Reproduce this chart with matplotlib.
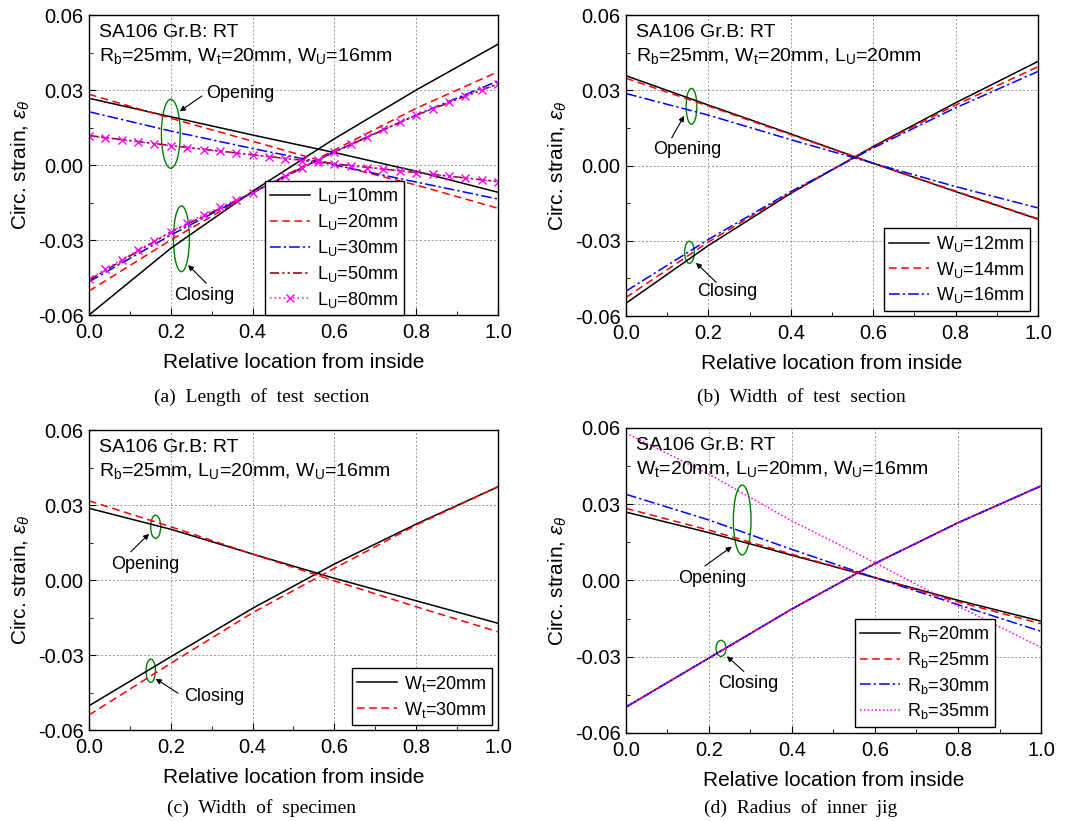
import matplotlib
matplotlib.use('Agg')
import matplotlib.pyplot as plt
from matplotlib.patches import Ellipse
from matplotlib.ticker import MultipleLocator, FormatStrFormatter

plt.rcParams['font.family'] = ['Liberation Sans', 'DejaVu Sans']
plt.rcParams['mathtext.fontset'] = 'custom'
plt.rcParams['mathtext.rm'] = 'Liberation Sans'
plt.rcParams['mathtext.it'] = 'Liberation Sans:italic'
plt.rcParams['axes.unicode_minus'] = False

# relative location through the wall
x_pts = [0.0, 0.2, 0.4, 0.6, 0.8, 1.0]
x_fine = [0.00, 0.04, 0.08, 0.12, 0.16, 0.20, 0.24, 0.28, 0.32, 0.36, 0.40, 0.44, 0.48,
          0.52, 0.56, 0.60, 0.64, 0.68, 0.72, 0.76, 0.80, 0.84, 0.88, 0.92, 0.96, 1.00]

# (a) length of test section
lu_labels = ['10', '20', '30', '50', '80']
lu_open = [
    [0.0267, 0.0193, 0.0120, 0.0050, -0.0025, -0.0109],
    [0.0283, 0.0187, 0.0095, 0.0002, -0.0080, -0.0173],
    [0.0213, 0.0136, 0.0066, 0.0000, -0.0068, -0.0136],
    [0.0118, 0.0078, 0.0041, 0.0005, -0.0030, -0.0066],
]
lu_close = [
    [-0.0600, -0.0333, -0.0105, 0.0105, 0.0300, 0.0483],
    [-0.0504, -0.0300, -0.0110, 0.0060, 0.0227, 0.0373],
    [-0.0467, -0.0280, -0.0110, 0.0053, 0.0200, 0.0336],
    [-0.0460, -0.0268, -0.0111, 0.0052, 0.0199, 0.0325],
]
lu80_open = [0.0116, 0.0108, 0.0100, 0.0093, 0.0085, 0.0077, 0.0070, 0.0062, 0.0055,
             0.0047, 0.0040, 0.0033, 0.0026, 0.0018, 0.0011, 0.0004, -0.0003, -0.0010,
             -0.0016, -0.0023, -0.0030, -0.0037, -0.0045, -0.0052, -0.0060, -0.0067]
lu80_close = [-0.0457, -0.0417, -0.0378, -0.0340, -0.0303, -0.0267, -0.0233, -0.0200,
              -0.0169, -0.0139, -0.0110, -0.0078, -0.0045, -0.0012, 0.0021, 0.0053,
              0.0083, 0.0113, 0.0143, 0.0172, 0.0200, 0.0226, 0.0251, 0.0276, 0.0300, 0.0323]

# (b) width of test section
wu_labels = ['12', '14', '16']
wu_open = [
    [0.0358, 0.0241, 0.0126, 0.0009, -0.0104, -0.0214],
    [0.0348, 0.0237, 0.0123, 0.0009, -0.0102, -0.0212],
    [0.0287, 0.0201, 0.0103, 0.0009, -0.0084, -0.0169],
]
wu_close = [
    [-0.0549, -0.0319, -0.0111, 0.0076, 0.0250, 0.0415],
    [-0.0526, -0.0305, -0.0108, 0.0074, 0.0241, 0.0394],
    [-0.0501, -0.0295, -0.0104, 0.0070, 0.0230, 0.0375],
]

# (c) width of specimen
wt_labels = ['20', '30']
wt_open = [
    [0.0287, 0.0203, 0.0104, 0.0007, -0.0083, -0.0173],
    [0.0317, 0.0213, 0.0104, -0.0003, -0.0107, -0.0207],
]
wt_close = [
    [-0.0503, -0.0307, -0.0113, 0.0064, 0.0224, 0.0373],
    [-0.0540, -0.0333, -0.0131, 0.0047, 0.0220, 0.0373],
]

# (d) radius of inner jig
rb_labels = ['20', '25', '30', '35']
rb_open = [
    [0.0269, 0.0188, 0.0099, 0.0011, -0.0078, -0.0160],
    [0.0284, 0.0198, 0.0103, 0.0011, -0.0084, -0.0170],
    [0.0339, 0.0238, 0.0122, 0.0011, -0.0095, -0.0200],
    [0.0580, 0.0418, 0.0234, 0.0070, -0.0101, -0.0263],
]
rb_close = [-0.0498, -0.0305, -0.0112, 0.0067, 0.0227, 0.0372]

BLACK = dict(color='black', ls='-', lw=1.1)
RED = dict(color='red', ls=(0, (5, 3)), lw=1.1)
BLUE = dict(color='blue', ls=(0, (7, 2, 1.5, 2)), lw=1.1)
DRED = dict(color='#800000', ls=(0, (6, 2, 1.5, 2, 1.5, 2)), lw=1.1)
MAG_X = dict(color='magenta', ls=(0, (1, 2)), lw=1.1, marker='x', ms=5.5, mew=1.0)
MAG_DOT = dict(color='magenta', ls=(0, (1, 1.5)), lw=1.1)

fig = plt.figure(figsize=(10.8, 8.21), dpi=100)
ax_a = fig.add_axes([0.0824, 0.6163, 0.3787, 0.3654])
ax_b = fig.add_axes([0.5796, 0.6151, 0.3815, 0.3666])
ax_c = fig.add_axes([0.0824, 0.1108, 0.3787, 0.3654])
ax_d = fig.add_axes([0.5796, 0.1072, 0.3843, 0.3715])


def setup(ax, line1, line2):
    ax.set_xlim(0, 1)
    ax.set_ylim(-0.06, 0.06)
    ax.xaxis.set_major_locator(MultipleLocator(0.2))
    ax.xaxis.set_minor_locator(MultipleLocator(0.1))
    ax.yaxis.set_major_locator(MultipleLocator(0.03))
    ax.yaxis.set_minor_locator(MultipleLocator(0.015))
    ax.xaxis.set_major_formatter(FormatStrFormatter('%.1f'))
    ax.yaxis.set_major_formatter(FormatStrFormatter('%.2f'))
    ax.tick_params(which='both', direction='in', top=False, right=False)
    ax.tick_params(which='major', length=5, labelsize=14.5)
    ax.tick_params(which='minor', length=3)
    ax.tick_params(axis='x', pad=6)
    ax.tick_params(axis='y', pad=4)
    ax.grid(True, which='major', color='#999999', ls=(0, (2, 2)), lw=0.7)
    ax.set_axisbelow(True)
    for sp in ax.spines.values():
        sp.set_linewidth(1.0)
    ax.set_xlabel('Relative location from inside', fontsize=15, labelpad=8)
    ax.set_ylabel(r'Circ. strain, $\varepsilon_\theta$', fontsize=15, labelpad=4)
    ax.text(0.025, 0.943, line1, transform=ax.transAxes, fontsize=14, va='center')
    ax.text(0.025, 0.865, line2, transform=ax.transAxes, fontsize=14, va='center')


def pair(ax, xo, yo, yc, style, label):
    ax.plot(xo, yo, label=label, **style)
    ax.plot(xo, yc, **style)


def mark(ax, text, ell_xy, ell_w, ell_h, txt_xy, arr_from, arr_to):
    ax.add_patch(Ellipse(ell_xy, ell_w, ell_h, fill=False, ec='green', lw=1.0))
    ax.annotate('', xy=arr_to, xytext=arr_from,
                arrowprops=dict(arrowstyle='-|>', color='black', lw=0.8,
                                mutation_scale=8, shrinkA=0, shrinkB=0))
    ax.text(txt_xy[0], txt_xy[1], text, ha='left', va='center', fontsize=13)


def legend(ax, anchor):
    leg = ax.legend(loc='lower right', bbox_to_anchor=anchor, fontsize=13,
                    frameon=True, fancybox=False, edgecolor='black', framealpha=1,
                    borderaxespad=0, handlelength=2.2, labelspacing=0.32,
                    handletextpad=0.4, borderpad=0.3)
    leg.get_frame().set_linewidth(1.0)


# (a)
setup(ax_a, 'SA106 Gr.B: RT',
      r'R$_\mathrm{b}$=25mm, W$_\mathrm{t}$=20mm, W$_\mathrm{U}$=16mm')
for yo, yc, st, lab in zip(lu_open, lu_close, [BLACK, RED, BLUE, DRED], lu_labels):
    pair(ax_a, x_pts, yo, yc, st, r'L$_\mathrm{U}$=' + lab + 'mm')
pair(ax_a, x_fine, lu80_open, lu80_close, MAG_X, r'L$_\mathrm{U}$=' + lu_labels[4] + 'mm')
mark(ax_a, 'Opening', (0.2, 0.0125), 0.046, 0.0276, (0.287, 0.0287),
     (0.276, 0.0276), (0.222, 0.0215))
mark(ax_a, 'Closing', (0.226, -0.0295), 0.039, 0.0263, (0.209, -0.052),
     (0.287, -0.0473), (0.242, -0.0400))
legend(ax_a, (0.770, 0.0))

# (b)
setup(ax_b, 'SA106 Gr.B: RT',
      r'R$_\mathrm{b}$=25mm, W$_\mathrm{t}$=20mm, L$_\mathrm{U}$=20mm')
for yo, yc, st, lab in zip(wu_open, wu_close, [BLACK, RED, BLUE], wu_labels):
    pair(ax_b, x_pts, yo, yc, st, r'W$_\mathrm{U}$=' + lab + 'mm')
mark(ax_b, 'Opening', (0.159, 0.0236), 0.026, 0.0143, (0.066, 0.0063),
     (0.111, 0.0110), (0.141, 0.0198))
mark(ax_b, 'Closing', (0.154, -0.0346), 0.0235, 0.0088, (0.173, -0.0502),
     (0.219, -0.0466), (0.170, -0.0388))
legend(ax_b, (0.98, 0.017))

# (c)
setup(ax_c, 'SA106 Gr.B: RT',
      r'R$_\mathrm{b}$=25mm, L$_\mathrm{U}$=20mm, W$_\mathrm{U}$=16mm')
for yo, yc, st, lab in zip(wt_open, wt_close, [BLACK, RED], wt_labels):
    pair(ax_c, x_pts, yo, yc, st, r'W$_\mathrm{t}$=' + lab + 'mm')
mark(ax_c, 'Opening', (0.163, 0.0213), 0.0244, 0.0093, (0.055, 0.0064),
     (0.102, 0.0113), (0.147, 0.0185))
mark(ax_c, 'Closing', (0.151, -0.0363), 0.0228, 0.0093, (0.232, -0.0464),
     (0.218, -0.0453), (0.163, -0.0395))
legend(ax_c, (0.985, 0.017))

# (d)
setup(ax_d, 'SA106 Gr.B: RT',
      r'W$_\mathrm{t}$=20mm, L$_\mathrm{U}$=20mm, W$_\mathrm{U}$=16mm')
for yo, st, lab in zip(rb_open, [BLACK, RED, BLUE, MAG_DOT], rb_labels):
    pair(ax_d, x_pts, yo, rb_close, st, r'R$_\mathrm{b}$=' + lab + 'mm')
mark(ax_d, 'Opening', (0.28, 0.0238), 0.0426, 0.0275, (0.126, 0.0007),
     (0.190, 0.0057), (0.255, 0.0133))
mark(ax_d, 'Closing', (0.229, -0.0267), 0.024, 0.0063, (0.221, -0.0406),
     (0.284, -0.0358), (0.243, -0.0298))
legend(ax_d, (0.889, 0.02))

cap = dict(ha='center', va='center', fontsize=14, family=['Liberation Serif', 'DejaVu Serif'])
fig.text(0.2426, 1 - 397 / 821, '(a)  Length  of  test  section', **cap)
fig.text(0.7417, 1 - 397 / 821, '(b)  Width  of  test  section', **cap)
fig.text(0.2417, 1 - 808 / 821, '(c)  Width  of  specimen', **cap)
fig.text(0.7417, 1 - 808 / 821, '(d)  Radius  of  inner  jig', **cap)

fig.savefig('out.png', dpi=100)
